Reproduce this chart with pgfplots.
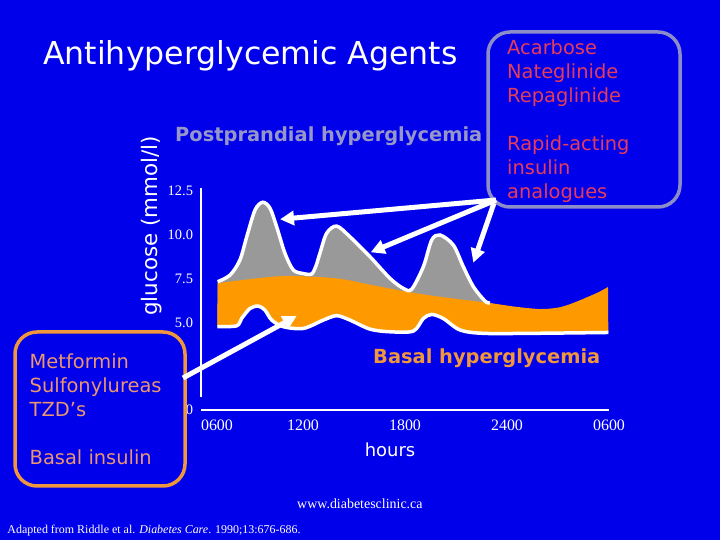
\documentclass[border=0pt]{standalone}
\usepackage{fontspec}
\setmainfont{DejaVu Sans}
\newfontfamily\serif{Liberation Serif}
\usepackage{pgfplots}
\usepackage{pgfplotstable}
\pgfplotsset{compat=1.18}
\usepgfplotslibrary{fillbetween}
\usetikzlibrary{arrows.meta}
\definecolor{bg}{RGB}{0,0,235}
\definecolor{fillorange}{RGB}{255,153,0}
\definecolor{fillgray}{RGB}{153,153,153}
\definecolor{boxline}{RGB}{140,140,200}
\definecolor{drugred}{RGB}{230,60,90}
\definecolor{boxorange}{RGB}{240,150,60}
\definecolor{drugorange}{RGB}{235,150,110}
\definecolor{ppgray}{RGB}{150,150,200}

% postprandial peaks (upper curve)
\pgfplotstableread{
h v
6.98 7.33
7.71 7.71
8.29 8.57
8.69 9.90
9.18 11.43
9.63 11.87
10.06 11.53
10.45 10.47
10.94 8.95
11.43 8.0
12.0 7.8
12.5 7.77
12.75 8.2
13.0 8.97
13.39 10.1
13.98 10.51
14.76 9.9
15.94 8.76
17.12 7.52
17.9 6.95
18.39 6.9
19.08 8.19
19.57 9.71
20.06 10.0
20.84 9.43
21.43 8.19
22.02 7.05
22.7 6.23
23.0 6.11
}\peaks
% top of the basal band
\pgfplotstableread{
h v
6.98 7.24
8.9 7.48
11.06 7.66
13.98 7.52
16.0 7.15
18.1 6.76
20.06 6.47
23.0 6.11
24.5 5.9
25.94 5.77
27.0 5.85
27.88 6.11
29.29 6.69
29.94 7.03
}\basaltop
% bottom of the basal band
\pgfplotstableread{
h v
6.96 4.76
8.1 4.81
8.39 5.23
8.88 5.8
9.37 5.94
9.76 5.71
10.16 5.14
10.84 4.76
12.02 4.66
13.2 5.14
13.98 5.39
14.76 5.14
15.94 4.62
17.12 4.47
18.49 4.51
19.08 5.23
19.57 5.46
20.25 5.23
21.24 4.57
22.61 4.38
25.35 4.38
29.96 4.43
}\basalbottom

\begin{document}
\begin{tikzpicture}
\fill[bg] (0bp,0bp) rectangle (720bp,540bp);

\begin{axis}[
  at={(201bp,130bp)}, anchor=south west,
  scale only axis, width=408bp, height=222.25bp,
  xmin=6, xmax=30, ymin=0, ymax=12.7,
  axis line style={draw=none},
  tick pos=left,
  xtick={6.94,12,18,24,30},
  xticklabels={0600,1200,1800,2400,0600},
  ytick={0,5,7.5,10,12.5},
  yticklabels={0,5.0,7.5,10.0,12.5},
  tick align=outside,
  major tick length=6bp,
  tick style={white, line width=1.5bp},
  xticklabel style={font=\serif\fontsize{16}{16}\selectfont, text=white},
  yticklabel style={font=\serif\fontsize{14.5}{14.5}\selectfont, text=white, xshift=1.5bp},
  clip=false,
]
\addplot[name path=G, draw=none, smooth] table[x=h, y=v] {\peaks};
\addplot[name path=T, draw=none, smooth] table[x=h, y=v] {\basaltop};
\addplot[name path=B, draw=none, smooth] table[x=h, y=v] {\basalbottom};
\addplot[fillgray] fill between[of=G and B, on layer=main];
\addplot[fillorange] fill between[of=T and B, on layer=main];
\addplot[white, line width=3.5bp, smooth] table[x=h, y=v] {\peaks};
\addplot[white, line width=3.5bp, smooth] table[x=h, y=v] {\basalbottom};

\draw[white, line width=2bp] (axis cs:6,0.75) -- (axis cs:6,12.68);
\draw[white, line width=2bp] (axis cs:6,0) -- (axis cs:30,0);
\end{axis}

% titles and labels
\node[anchor=base west, inner sep=0, text=white, font=\fontsize{31.7}{36}\selectfont]
  at (43bp,475bp) {Antihyperglycemic Agents};
\node[anchor=base west, inner sep=0, text=ppgray, font=\bfseries\fontsize{19.5}{22}\selectfont]
  at (175bp,398.3bp) {Postprandial hyperglycemia};
\node[anchor=base west, inner sep=0, text=boxorange, font=\bfseries\fontsize{19.5}{22}\selectfont]
  at (373bp,176.7bp) {Basal hyperglycemia};
\node[anchor=base, inner sep=0, text=white, rotate=90, font=\fontsize{21.5}{24}\selectfont]
  at (157bp,314bp) {glucose (mmol/l)};
\node[anchor=base, inner sep=0, text=white, font=\fontsize{18}{20}\selectfont]
  at (390bp,83.3bp) {hours};
\node[anchor=base west, inner sep=0, text=white, font=\serif\fontsize{14}{16}\selectfont]
  at (297bp,31.7bp) {www.diabetesclinic.ca};
\node[anchor=base west, inner sep=0, text=white, font=\serif\fontsize{12}{14}\selectfont]
  at (7.3bp,6.7bp) {Adapted from Riddle et al. \textit{Diabetes Care}. 1990;13:676-686.};

% boxes
\draw[boxline, line width=3.5bp, rounded corners=22bp] (488bp,508bp) rectangle (680bp,333bp);
\draw[boxorange, line width=3.5bp, rounded corners=22bp] (15bp,208bp) rectangle (185bp,54bp);

\begin{scope}[every node/.style={anchor=base west, inner sep=0, font=\fontsize{19.5}{22}\selectfont}]
\node[text=drugred] at (507bp,485bp) {Acarbose};
\node[text=drugred] at (507bp,461bp) {Nateglinide};
\node[text=drugred] at (507bp,437bp) {Repaglinide};
\node[text=drugred] at (507bp,389bp) {Rapid-acting};
\node[text=drugred] at (507bp,365bp) {insulin};
\node[text=drugred] at (507bp,341bp) {analogues};
\node[text=drugorange] at (29.5bp,171.7bp) {Metformin};
\node[text=drugorange] at (29.5bp,147.7bp) {Sulfonylureas};
\node[text=drugorange] at (29.5bp,123.7bp) {TZD’s};
\node[text=drugorange] at (29.5bp,75.7bp) {Basal insulin};
\end{scope}

% arrows
\begin{scope}[white, line width=5bp, -{Triangle[length=14bp,width=14bp]}]
\draw (496bp,340bp) -- (280bp,320.7bp);
\draw (496bp,340bp) -- (370.7bp,287.7bp);
\draw (494bp,337bp) -- (473.3bp,277.3bp);
\draw (183bp,162bp) -- (296.7bp,224bp);
\end{scope}
\end{tikzpicture}
\end{document}
